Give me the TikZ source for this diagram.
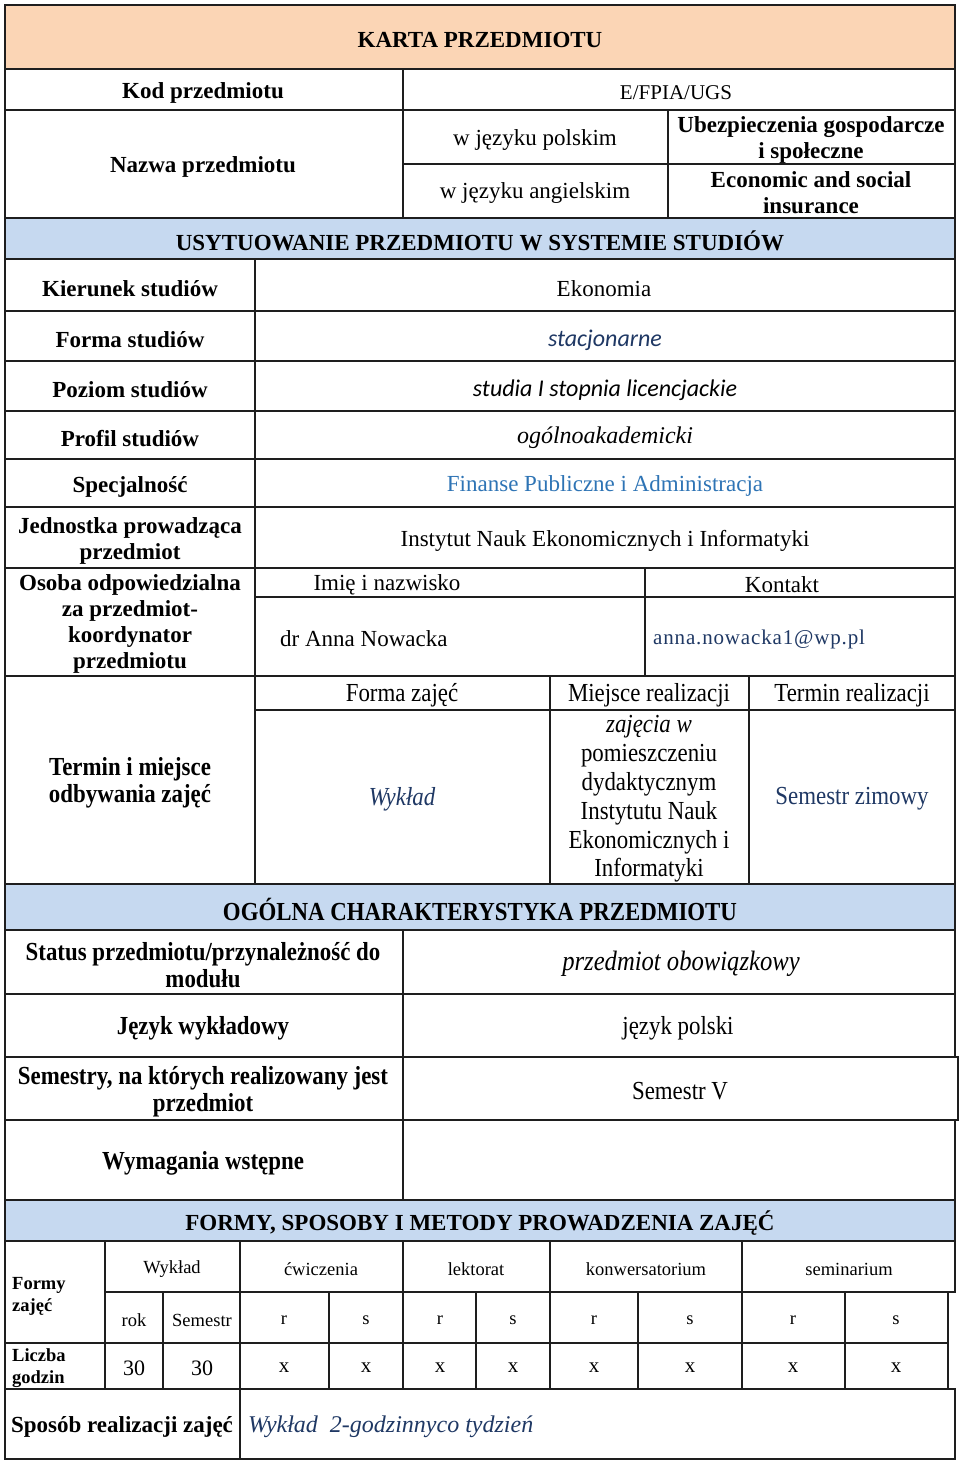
\documentclass[tikz,border=0pt]{standalone}
\usepackage{fontspec}
\setmainfont{Liberation Serif}
\newfontfamily\condf[FakeStretch=0.88]{Liberation Serif}
\newfontfamily\calib{Carlito}
\definecolor{peach}{RGB}{251,213,181}
\definecolor{hblue}{RGB}{198,217,240}
\definecolor{navy}{RGB}{31,56,100}
\definecolor{midblue}{RGB}{46,116,181}
\definecolor{lnc}{RGB}{30,30,30}
\newcommand\cellr[4]{\draw[grid] (#1,#2) rectangle (#3,#4);}
\begin{document}
\begin{tikzpicture}[x=1pt,y=-1pt,
  every node/.append style={yshift=-2pt},
  grid/.style={draw=lnc,line width=1.4pt},
  lb/.style={font=\bfseries\fontsize{23}{26}\selectfont,align=center,inner sep=0pt},
  tx/.style={font=\fontsize{23}{26}\selectfont,align=center,inner sep=0pt},
  clb/.style={font=\condf\bfseries\fontsize{26}{27}\selectfont,align=center,inner sep=0pt},
  ctx/.style={font=\condf\fontsize{26}{28.8}\selectfont,align=center,inner sep=0pt},
  sm/.style={font=\fontsize{18.5}{21}\selectfont,inner sep=0pt},
  smb/.style={font=\bfseries\fontsize{18.5}{22}\selectfont,align=left,inner sep=0pt},
  num/.style={font=\fontsize{22}{24}\selectfont,inner sep=0pt}]
\useasboundingbox (0,0) rectangle (960,1463);
\fill[white] (0,0) rectangle (960,1463);
% header fills
\fill[peach] (5,5) rectangle (955,69);
\fill[hblue] (5,218) rectangle (955,259);
\fill[hblue] (5,884) rectangle (955,930);
\fill[hblue] (5,1200) rectangle (955,1241);
% grid
\cellr{5}{5}{955}{69}
\cellr{5}{69}{403}{110}\cellr{403}{69}{955}{110}
\cellr{5}{110}{403}{218}
\cellr{403}{110}{668}{164}\cellr{403}{164}{668}{218}
\cellr{668}{110}{955}{164}\cellr{668}{164}{955}{218}
\cellr{5}{218}{955}{259}
\foreach \a/\b in {259/311,311/361,361/411,411/459,459/507,507/568}{\cellr{5}{\a}{255}{\b}\cellr{255}{\a}{955}{\b}}
\cellr{5}{568}{255}{676}
\cellr{255}{568}{645}{597}\cellr{645}{568}{955}{597}
\cellr{255}{597}{645}{676}\cellr{645}{597}{955}{676}
\cellr{5}{676}{255}{884}
\cellr{255}{676}{550}{710}\cellr{550}{676}{749}{710}\cellr{749}{676}{955}{710}
\cellr{255}{710}{550}{884}\cellr{550}{710}{749}{884}\cellr{749}{710}{955}{884}
\cellr{5}{884}{955}{930}
\cellr{5}{930}{403}{994}\cellr{403}{930}{955}{994}
\cellr{5}{994}{403}{1057}\cellr{403}{994}{955}{1057}
\cellr{5}{1057}{403}{1120}\cellr{403}{1057}{958}{1120}
\cellr{5}{1120}{403}{1200}\cellr{403}{1120}{955}{1200}
\cellr{5}{1200}{955}{1241}
\cellr{5}{1241}{105}{1343}\cellr{5}{1343}{105}{1389}
\foreach \a/\b in {105/240,240/403,403/550,550/742,742/955}{\cellr{\a}{1241}{\b}{1292}}
\foreach \a/\b in {105/163,163/240,240/329,329/403,403/476,476/550,550/638,638/742,742/845,845/948}{\cellr{\a}{1292}{\b}{1343}\cellr{\a}{1343}{\b}{1389}}
\cellr{5}{1389}{240}{1459}\cellr{240}{1389}{955}{1459}
% texts - top
\node[lb] (karta) at (480,38) {KARTA PRZEDMIOTU};
\node[lb] (kod) at (203,91) {Kod przedmiotu};
\node[tx,font=\fontsize{21}{24}\selectfont] (kodv) at (676,91) {E/FPIA/UGS};
\node[lb] (nazwa) at (203,165) {Nazwa przedmiotu};
\node[tx] (wpl) at (535,138) {w języku polskim};
\node[tx] (wang) at (535,191) {w języku angielskim};
\node[lb] (npl) at (811,138) {Ubezpieczenia gospodarcze\\i społeczne};
\node[lb] (nang) at (811,191) {Economic and social\\insurance};
\node[lb] (usyt) at (480,239) {USYTUOWANIE PRZEDMIOTU W SYSTEMIE STUDIÓW};
\node[lb] (kier) at (130,287) {Kierunek studiów};
\node[lb] (forma) at (130,338) {Forma studiów};
\node[lb] (poziom) at (130,388) {Poziom studiów};
\node[lb] (profil) at (130,437) {Profil studiów};
\node[lb] (spec) at (130,485) {Specjalność};
\node[lb] (jedn) at (130,539) {Jednostka prowadząca\\przedmiot};
\node[lb] (osoba) at (130,622) {Osoba odpowiedzialna\\za przedmiot-\\koordynator\\przedmiotu};
\node[tx] (kierv) at (604,287) {Ekonomia};
\node[tx,font=\calib\itshape\fontsize{24}{26}\selectfont,text=navy] (formav) at (605,338) {stacjonarne};
\node[tx,font=\calib\itshape\fontsize{24}{26}\selectfont] (poziomv) at (605,388) {studia I stopnia licencjackie};
\node[tx,font=\itshape\fontsize{24}{26}\selectfont] (profilv) at (605,436) {ogólnoakademicki};
\node[tx,text=midblue] (specv) at (605,484) {Finanse Publiczne i Administracja};
\node[tx] (jednv) at (605,539) {Instytut Nauk Ekonomicznych i Informatyki};
\node[tx] (imie) at (387,583) {Imię i nazwisko};
\node[tx] (kontakt) at (782,583) {Kontakt};
\node[tx,anchor=west] (dr) at (280,637) {dr Anna Nowacka};
\node[tx,anchor=west,text=navy,font=\addfontfeatures{LetterSpace=4}\fontsize{21}{24}\selectfont] (mail) at (653,637) {anna.nowacka1@wp.pl};
% termin section
\node[clb] (termin) at (130,781) {Termin i miejsce\\odbywania zajęć};
\node[ctx] (fz) at (402,693) {Forma zajęć};
\node[ctx] (mr) at (649,693) {Miejsce realizacji};
\node[ctx] (tr) at (852,693) {Termin realizacji};
\node[ctx,text=navy,font=\condf\itshape\fontsize{26}{28.8}\selectfont] (wyk) at (402,797) {Wykład};
\node[ctx] (miejsce) at (649,797) {\textit{zajęcia w}\\pomieszczeniu\\dydaktycznym\\Instytutu Nauk\\Ekonomicznych i\\Informatyki};
\node[ctx,text=navy] (sz) at (852,797) {Semestr zimowy};
\node[clb] (ogolna) at (480,907) {OGÓLNA CHARAKTERYSTYKA PRZEDMIOTU};
\node[clb] (status) at (203,963) {Status przedmiotu/przynależność do\\modułu};
\node[ctx,font=\condf\itshape\fontsize{28}{30}\selectfont] (statusv) at (681,962) {przedmiot obowiązkowy};
\node[clb] (jez) at (203,1026) {Język wykładowy};
\node[ctx] (jezv) at (678,1026) {język polski};
\node[clb] (sem) at (203,1090) {Semestry, na których realizowany jest\\przedmiot};
\node[ctx] (semv) at (680,1089) {Semestr V};
\node[clb] (wym) at (203,1161) {Wymagania wstępne};
% formy
\node[lb] (formy) at (480,1221) {FORMY, SPOSOBY I METODY PROWADZENIA ZAJĘĆ};
\node[smb,anchor=west] (fzaj) at (12,1294) {Formy\\zajęć};
\node[smb,anchor=west] (lg) at (12,1366) {Liczba\\godzin};
\node[sm] (h1) at (172,1267) {Wykład};
\node[sm] (h2) at (321,1267) {ćwiczenia};
\node[sm] (h3) at (476,1267) {lektorat};
\node[sm] (h4) at (646,1267) {konwersatorium};
\node[sm] (h5) at (849,1267) {seminarium};
\node[sm] (r1) at (134,1318) {rok};
\node[sm] (r2) at (202,1318) {Semestr};
\foreach \x/\t [count=\i] in {284/r,366/s,440/r,513/s,594/r,690/s,793/r,896/s}{\node[sm] (rs\i) at (\x,1318) {\t};}
\node[num] (n1) at (134,1366) {30};
\node[num] (n2) at (202,1366) {30};
\foreach \x [count=\i] in {284,366,440,513,594,690,793,896}{\node[num,font=\fontsize{21}{24}\selectfont] (nx\i) at (\x,1366) {x};}
\node[lb] (spos) at (122,1425) {Sposób realizacji zajęć};
\node[tx,anchor=west,text=navy,font=\itshape\fontsize{24}{26}\selectfont] (sposv) at (248,1425) {Wykład\ \ 2-godzinnyco tydzień};
\end{tikzpicture}
\end{document}
